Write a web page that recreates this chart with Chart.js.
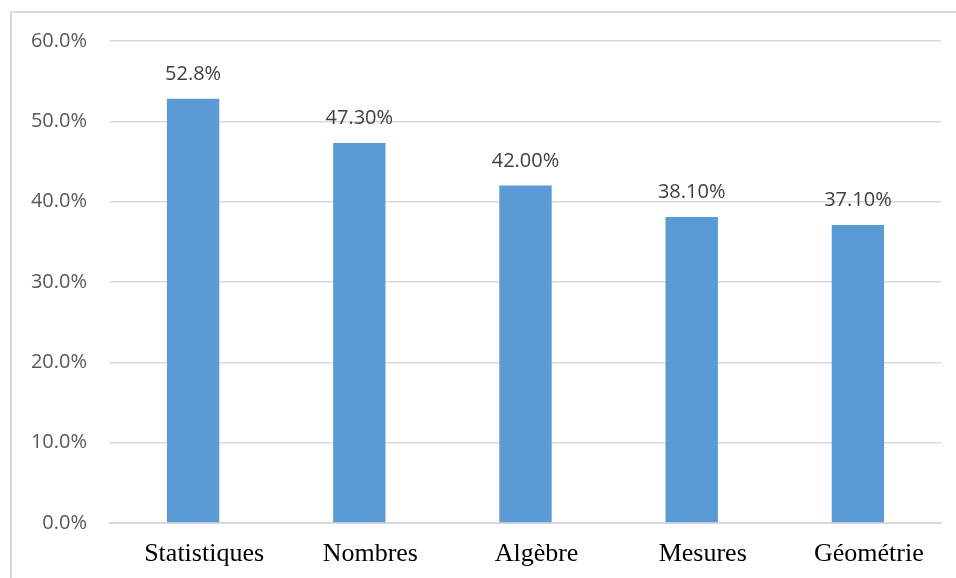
<!DOCTYPE html>
<html>
<head>
<meta charset="utf-8">
<script src="https://cdn.jsdelivr.net/npm/chart.js@4/dist/chart.umd.min.js"></script>
<style>
  html, body { margin: 0; padding: 0; background: #fff; }
  #frame {
    position: absolute; left: 10px; top: 11px; width: 960px; height: 580px;
    border-left: 2px solid #d9d9d9; border-top: 2px solid #d9d9d9;
  }
  #wrap { position: absolute; left: 0; top: 0; width: 956px; height: 578px; }
</style>
</head>
<body>
<div id="frame"></div>
<div id="wrap"><canvas id="chart"></canvas></div>
<script>
// Share of items per domain (percent)
const categories = ["Statistiques", "Nombres", "Algèbre", "Mesures", "Géométrie"];
const values = [52.8, 47.3, 42.0, 38.1, 37.1];
const valueLabels = ["52.8%", "47.30%", "42.00%", "38.10%", "37.10%"];

// Draws the value text above each bar
const barLabels = {
  id: "barLabels",
  afterDatasetsDraw(chart) {
    const ctx = chart.ctx;
    const meta = chart.getDatasetMeta(0);
    ctx.save();
    ctx.font = "20px 'Open Sans'";
    ctx.fillStyle = "#404040";
    ctx.textAlign = "center";
    ctx.textBaseline = "alphabetic";
    meta.data.forEach((bar, i) => {
      ctx.fillText(valueLabels[i], bar.x, bar.y - 19);
    });
    ctx.restore();
  }
};

const ctx = document.getElementById("chart").getContext("2d");
new Chart(ctx, {
  type: "bar",
  data: {
    labels: categories,
    datasets: [{
      data: values,
      backgroundColor: "#5b9bd5",
      borderWidth: 0,
      categoryPercentage: 1,
      barPercentage: 0.315
    }]
  },
  options: {
    responsive: true,
    maintainAspectRatio: false,
    animation: false,
    layout: { padding: { left: 0, top: 41, right: 15, bottom: 0 } },
    scales: {
      y: {
        min: 0,
        max: 60,
        ticks: {
          stepSize: 10,
          padding: 23,
          color: "#595959",
          font: { size: 20, family: "Open Sans" },
          callback: v => v.toFixed(1) + "%"
        },
        grid: { color: "#d9d9d9", lineWidth: 1.5, drawTicks: false },
        border: { display: false },
        afterFit: s => { s.width = 110; }
      },
      x: {
        ticks: {
          padding: 16,
          labelOffset: 11,
          color: "#000",
          font: { size: 26, family: "Liberation Serif" }
        },
        grid: { display: false, drawTicks: false },
        border: { color: "#d9d9d9", width: 2 },
        afterFit: s => { s.height = 55; }
      }
    },
    plugins: {
      legend: { display: false },
      tooltip: { enabled: false }
    }
  },
  plugins: [barLabels]
});
</script>
</body>
</html>
